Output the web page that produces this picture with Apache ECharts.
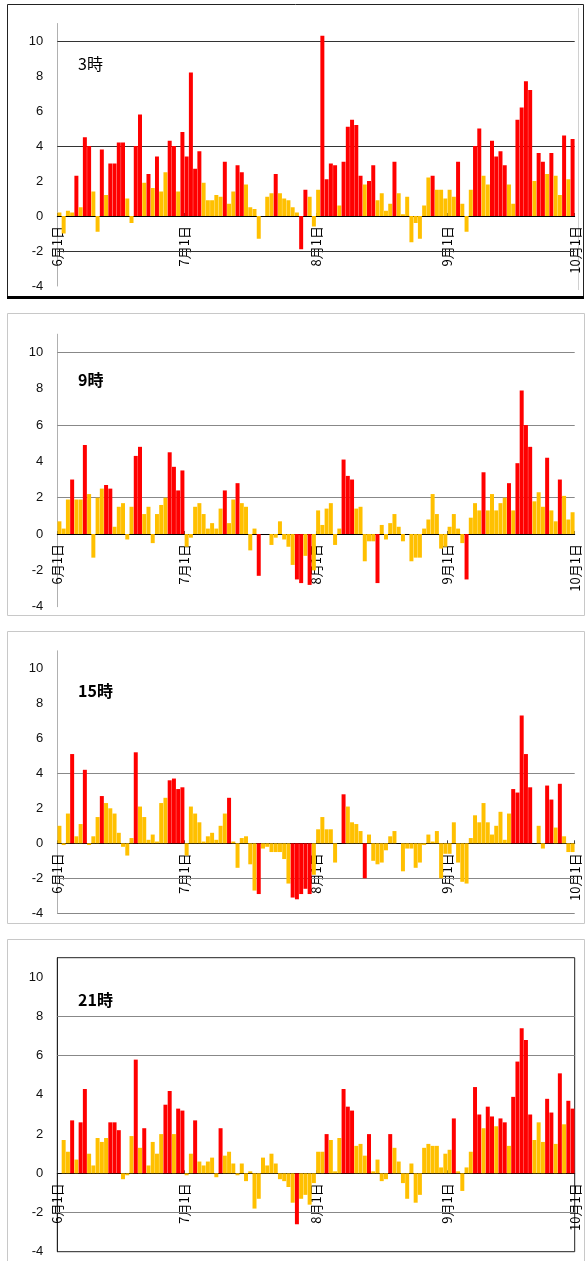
<!DOCTYPE html>
<html>
<head>
<meta charset="utf-8">
<script src="https://cdn.jsdelivr.net/npm/echarts@6/dist/echarts.min.js"></script>
<style>
  html, body { margin: 0; padding: 0; background: #fff; }
  #main { width: 587px; height: 1261px; }
</style>
</head>
<body>
<div id="main"></div>
<script>
// x軸ラベル（6/1〜10/1、日番号で位置を持つ）
const monthLabels = ["6月1日", "7月1日", "8月1日", "9月1日", "10月1日"];
const monthStartDay = [0, 30, 61, 92, 122];
const hourNames = ["3時", "9時", "15時", "21時"];

// 6/1〜9/30 の日別値（122日）
const v03 = [0.2,-1.0,0.3,0.2,2.3,0.5,4.5,4.0,1.4,-0.9,
  3.8,1.2,3.0,3.0,4.2,4.2,1.0,-0.4,4.0,5.8,
  1.9,2.4,1.6,3.4,1.4,2.5,4.3,4.0,1.4,4.8,
  3.4,8.2,2.7,3.7,1.9,0.9,0.9,1.2,1.1,3.1,
  0.7,1.4,2.9,2.5,1.8,0.5,0.4,-1.3,0.0,1.1,
  1.3,2.4,1.3,1.0,0.9,0.5,0.2,-1.9,1.5,1.1,
  -0.6,1.5,10.3,2.1,3.0,2.9,0.6,3.1,5.1,5.5,
  5.2,2.3,1.8,2.0,2.9,0.9,1.3,0.3,0.7,3.1,
  1.3,0.1,1.1,-1.5,-0.4,-1.3,0.6,2.2,2.3,1.5,
  1.5,1.0,1.5,1.1,3.1,0.7,-0.9,1.5,4.0,5.0,
  2.3,1.8,4.3,3.4,3.7,2.9,1.8,0.7,5.5,6.2,
  7.7,7.2,2.0,3.6,3.1,2.4,3.6,2.3,1.2,4.6,
  2.1,4.4];
// 1 = 赤で表示する日
const r03 = [0,0,0,0,1,0,1,1,0,0,
  1,0,1,1,1,1,0,0,1,1,
  0,1,0,1,0,0,1,1,0,1,
  1,1,1,1,0,0,0,0,0,1,
  0,0,1,1,0,0,0,0,0,0,
  0,1,0,0,0,0,0,1,1,0,
  0,0,1,1,1,1,0,1,1,1,
  1,1,0,1,1,0,0,0,0,1,
  0,0,0,0,0,0,0,0,1,0,
  0,0,0,0,1,0,0,0,1,1,
  0,0,1,1,1,1,0,0,1,1,
  1,1,0,1,1,0,1,0,0,1,
  0,1];

const v09 = [0.7,0.3,1.9,3.0,1.9,1.9,4.9,2.2,-1.3,2.0,
  2.5,2.7,2.5,0.4,1.5,1.7,-0.3,1.5,4.3,4.8,
  1.1,1.5,-0.5,1.1,1.6,2.0,4.5,3.7,2.4,3.5,
  -0.7,-0.2,1.5,1.7,1.1,0.3,0.6,0.3,1.4,2.4,
  0.6,1.9,2.8,1.7,1.5,-0.9,0.3,-2.3,0.0,0.0,
  -0.6,-0.2,0.7,-0.3,-0.7,-1.7,-2.5,-2.7,-1.2,-2.8,
  -2.0,1.3,0.5,1.4,1.7,-0.6,0.3,4.1,3.2,3.0,
  1.4,1.5,-1.5,-0.4,-0.4,-2.7,0.5,-0.3,0.6,1.1,
  0.4,-0.4,0.0,-1.5,-1.3,-1.3,0.3,0.8,2.2,1.1,
  -0.8,-0.7,0.4,1.1,0.3,-0.5,-2.5,0.9,1.7,1.3,
  3.4,1.3,2.2,1.3,1.7,2.0,2.8,1.3,3.9,7.9,
  6.0,4.8,1.8,2.3,1.5,4.2,1.3,0.7,3.0,2.1,
  0.8,1.2];
const r09 = [0,0,0,1,0,0,1,0,0,0,
  0,1,1,0,0,0,0,0,1,1,
  0,0,0,0,0,0,1,1,1,1,
  0,0,0,0,0,0,0,0,0,1,
  0,0,1,0,0,0,0,1,0,0,
  0,0,0,0,0,0,1,1,0,1,
  0,0,0,0,0,0,0,1,1,1,
  0,0,0,0,0,1,0,0,0,0,
  0,0,0,0,0,0,0,0,0,0,
  0,0,0,0,0,0,1,0,0,0,
  1,0,0,0,0,0,1,0,1,1,
  1,1,0,0,0,1,0,0,1,0,
  0,0];

const v15 = [1.0,-0.1,1.7,5.1,0.4,1.1,4.2,-0.1,0.4,1.5,
  2.7,2.3,2.0,1.7,0.6,-0.2,-0.7,0.3,5.2,2.1,
  1.5,0.2,0.5,0.1,2.3,2.6,3.6,3.7,3.1,3.2,
  -0.7,2.1,1.7,1.2,0.1,0.4,0.6,0.2,1.0,1.7,
  2.6,0.1,-1.4,0.3,0.4,-1.2,-2.7,-2.9,-0.3,-0.2,
  -0.5,-0.5,-0.5,-0.9,-2.3,-3.1,-3.2,-2.9,-2.6,-2.9,
  -1.8,0.8,1.5,0.8,0.8,-1.1,0.0,2.8,2.1,1.2,
  1.1,0.7,-2.0,0.5,-1.0,-1.2,-1.1,-0.4,0.4,0.7,
  0.0,-1.6,-0.3,-0.3,-1.4,-1.1,-0.1,0.5,0.1,0.7,
  -2.0,-0.6,-0.6,1.2,-1.1,-2.2,-2.3,0.3,1.6,1.2,
  2.3,1.2,0.5,1.0,1.8,0.2,1.7,3.1,2.9,7.3,
  5.1,3.2,0.0,1.0,-0.3,3.3,2.5,0.9,3.4,0.4,
  -0.5,-0.5];
const r15 = [0,0,0,1,0,0,1,0,0,0,
  1,0,0,0,0,0,0,0,1,0,
  0,0,0,0,0,0,1,1,1,1,
  0,0,0,0,0,0,0,0,0,0,
  1,0,0,0,0,0,0,1,0,0,
  0,0,0,0,0,1,1,1,1,1,
  0,0,0,0,0,0,0,1,0,0,
  0,0,1,0,0,0,0,0,0,0,
  0,0,0,0,0,0,0,0,0,0,
  0,0,0,0,0,0,0,0,0,0,
  0,0,0,0,0,0,0,1,1,1,
  1,1,0,0,0,1,1,0,1,0,
  0,0];

const v21 = [0.0,1.7,1.1,2.7,0.7,2.6,4.3,1.0,0.4,1.8,
  1.6,1.8,2.6,2.6,2.2,-0.3,-0.1,1.9,5.8,1.3,
  2.3,0.4,1.6,1.0,2.0,3.5,4.2,2.0,3.3,3.2,
  -0.1,1.0,2.7,0.6,0.4,0.6,0.8,-0.2,2.3,0.9,
  1.1,0.5,-0.1,0.5,-0.4,0.1,-1.8,-1.3,0.8,0.4,
  1.0,0.5,-0.3,-0.4,-0.7,-1.5,-2.6,-1.3,-1.1,-1.6,
  -0.5,1.1,1.1,2.0,1.7,0.1,1.8,4.3,3.4,3.2,
  1.4,1.5,0.9,2.0,0.1,0.7,-0.4,-0.3,2.0,1.3,
  0.6,-0.5,-1.3,0.5,-1.5,-1.1,1.3,1.5,1.4,1.4,
  0.3,1.0,1.2,2.8,0.1,-0.9,0.3,1.1,4.4,3.0,
  2.3,3.4,2.9,2.4,2.8,2.6,1.4,3.9,5.7,7.4,
  6.8,3.0,1.7,2.6,1.6,3.8,3.1,1.5,5.1,2.5,
  3.7,3.3];
const r21 = [0,0,0,1,0,1,1,0,0,0,
  0,0,1,1,1,0,0,0,1,0,
  1,0,0,0,0,1,1,0,1,1,
  0,0,1,0,0,0,0,0,1,0,
  0,0,0,0,0,0,0,0,0,0,
  0,0,0,0,0,0,1,0,0,0,
  0,0,0,1,0,0,0,1,1,1,
  0,0,0,1,0,0,0,0,1,0,
  0,0,0,0,0,0,0,0,0,0,
  0,0,0,1,0,0,0,0,1,1,
  0,1,1,0,1,1,0,1,1,1,
  1,1,0,0,0,1,1,0,1,0,
  1,1];

const values = [v03, v09, v15, v21];
const reds = [r03, r09, r15, r21];
values.concat(reds).forEach((a) => {
  if (a.length !== 122) throw new Error("length " + a.length);
});

const Y_MIN = -4, Y_MAX = 11;

// 各パネルの配置
const panels = [
  { top: 23.5, height: 262.5, lines: [10, 4, -2], lineColor: "#333", titleTop: 51, bold: "normal",
    frame: [7, 4, 576, 294], frameColor: "#222" },
  { top: 334.2, height: 272.5, lines: [10, 6, 2], lineColor: "#888", titleTop: 367, bold: "bold",
    frame: [7, 313, 577, 302], frameColor: "#c8c8c8" },
  { top: 650.8, height: 262.5, lines: [4, -2, -4], lineColor: "#888", titleTop: 678, bold: "bold",
    frame: [7, 631, 577, 292], frameColor: "#c8c8c8" },
  { top: 957.7, height: 294, lines: [8, 6, -2], lineColor: "#888", titleTop: 987, bold: "bold",
    frame: [7, 939, 577, 340], frameColor: "#c8c8c8" },
];

const RED = "#ff0000";
const YELLOW = "#ffc000";
const font = "'Noto Sans CJK JP', sans-serif";

const chart = echarts.init(document.getElementById("main"), null, { renderer: "canvas" });

const grid = [], xAxis = [], yAxis = [], series = [], title = [], graphic = [];

panels.forEach((p, i) => {
  grid.push({
    left: 57.3, width: 517.4, top: p.top, height: p.height,
    show: i === 3, borderColor: "#222", borderWidth: 1,
  });
  // x軸は0の位置に（ラベルごと）持ち上げる
  const zeroOffset = -p.height * (0 - Y_MIN) / (Y_MAX - Y_MIN);
  xAxis.push({
    gridIndex: i, type: "value", min: 0, max: 122,
    position: "bottom", offset: zeroOffset,
    axisLine: { onZero: false, lineStyle: { color: "#000", width: 1 } },
    axisTick: { show: true, inside: true, length: 3, customValues: monthStartDay, lineStyle: { color: "#444" } },
    axisLabel: {
      customValues: monthStartDay,
      formatter: (v) => monthLabels[monthStartDay.indexOf(v)],
      rotate: 90, margin: 10, fontSize: 13, color: "#000", fontFamily: font,
    },
    splitLine: { show: false },
  });
  yAxis.push({
    gridIndex: i, type: "value", min: Y_MIN, max: Y_MAX, interval: 2,
    axisLine: { show: true, lineStyle: { color: i === 3 ? "#222" : "#b0b0b0" } },
    axisTick: { show: false },
    axisLabel: { showMaxLabel: false, margin: 14, fontSize: 13, color: "#111", fontFamily: "'Liberation Sans', Arial, sans-serif" },
    splitLine: { show: false },
  });
  series.push({
    type: "bar", xAxisIndex: i, yAxisIndex: i,
    barWidth: "94%",
    data: values[i].map((v, d) => ({
      value: [d + 0.5, v],
      itemStyle: { color: reds[i][d] ? RED : YELLOW },
    })),
    markLine: {
      silent: true, z: 1, symbol: ["none", "none"],
      label: { show: false },
      lineStyle: { color: p.lineColor, width: 1, type: "solid" },
      data: p.lines.map((y) => ({ yAxis: y })),
      animation: false,
    },
    animation: false,
  });
  title.push({
    text: hourNames[i], left: 73, top: p.titleTop,
    textStyle: { fontSize: 16, fontWeight: p.bold, color: "#000", fontFamily: font },
  });
  graphic.push({
    type: "rect", silent: true, z: -1,
    shape: { x: p.frame[0] + 0.5, y: p.frame[1] + 0.5, width: p.frame[2], height: p.frame[3] },
    style: { fill: "none", stroke: p.frameColor, lineWidth: 1 },
  });
});
// 1枚目の下枠は太線
graphic.push({
  type: "line", silent: true,
  shape: { x1: 7, y1: 297.5, x2: 584, y2: 297.5 },
  style: { stroke: "#000", lineWidth: 3 },
});
graphic.push({
  type: "line", silent: true,
  shape: { x1: 578.5, y1: 8, x2: 578.5, y2: 290 },
  style: { stroke: "#d0d0d0", lineWidth: 1 },
});

chart.setOption({
  animation: false,
  backgroundColor: "#fff",
  title, grid, xAxis, yAxis, series, graphic,
});
</script>
</body>
</html>
